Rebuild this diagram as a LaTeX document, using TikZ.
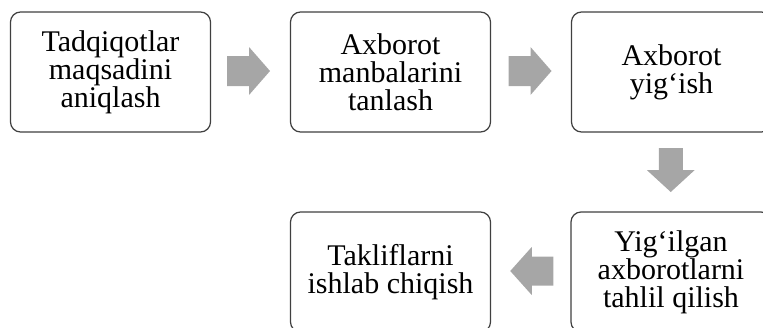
\documentclass[tikz,border=0pt]{standalone}
\usepackage{fontspec}
\setmainfont{Liberation Serif}
\usetikzlibrary{calc}
\definecolor{boxline}{HTML}{404040}
\definecolor{arrowgray}{HTML}{A6A6A6}
\tikzset{
  stepbox/.style={draw=boxline, line width=1.2pt, rounded corners=10pt, fill=white,
    minimum width=200pt, minimum height=120pt, inner sep=0pt, align=center,
    font=\fontsize{30pt}{28pt}\selectfont, text=black},
  blockarrow/.style={fill=arrowgray, draw=none}
}
\begin{document}
\begin{tikzpicture}[x=1pt,y=1pt]
\useasboundingbox (0,0) rectangle (763,-327);
\clip (0,0) rectangle (763,-327);
\node[stepbox] (b1) at (110.5,-72) {Tadqiqotlar\\maqsadini\\aniqlash};
\node[stepbox] (b2) at (390.5,-72) {Axborot\\manbalarini\\tanlash};
\node[stepbox] (b3) at (671.5,-72) {Axborot\\yig‘ish};
\node[stepbox] (b5) at (671,-272) {Yig‘ilgan\\axborotlarni\\tahlil qilish};
\node[stepbox] (b4) at (390.5,-272) {Takliflarni\\ishlab chiqish};
% connectors between boxes (block arrows)
\coordinate (m1) at ($(b1.east)!0.5!(b2.west)+(-2,1)$);
\coordinate (m2) at ($(b2.east)!0.5!(b3.west)+(-1,1)$);
\coordinate (m3) at ($(b3.south)!0.5!(b5.north)+(-0.5,2)$);
\coordinate (m4) at ($(b5.west)!0.5!(b4.east)+(1,1)$);
% right arrows
\foreach \m in {m1,m2}{
  \fill[blockarrow] ($(\m)+(-21.5,15)$) -- ($(\m)+(0.5,15)$) -- ($(\m)+(0.5,24)$) --
    ($(\m)+(21.5,0)$) -- ($(\m)+(0.5,-24)$) -- ($(\m)+(0.5,-15)$) --
    ($(\m)+(-21.5,-15)$) -- cycle;
}
% down arrow
\fill[blockarrow] ($(m3)+(-12,22)$) -- ($(m3)+(12,22)$) -- ($(m3)+(12,0)$) --
  ($(m3)+(24,0)$) -- ($(m3)+(0,-22)$) -- ($(m3)+(-24,0)$) --
  ($(m3)+(-12,0)$) -- cycle;
% left arrow
\fill[blockarrow] ($(m4)+(21.5,14.5)$) -- ($(m4)+(0,14.5)$) -- ($(m4)+(0,24)$) --
  ($(m4)+(-21.5,0)$) -- ($(m4)+(0,-24)$) -- ($(m4)+(0,-14.5)$) --
  ($(m4)+(21.5,-14.5)$) -- cycle;
\end{tikzpicture}
\end{document}
